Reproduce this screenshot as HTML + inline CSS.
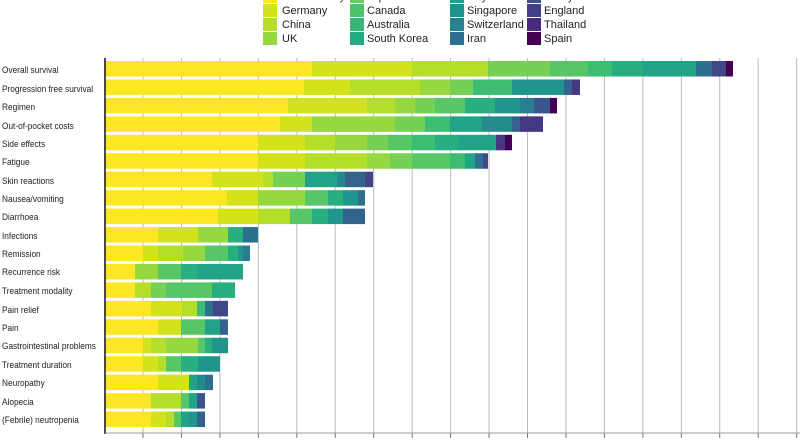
<!DOCTYPE html>
<html><head><meta charset="utf-8"><style>
body{margin:0;width:800px;height:440px;overflow:hidden;background:#fff;font-family:"Liberation Sans",sans-serif;position:relative}
.lab{position:absolute;left:2px;font-size:9px;color:#222;line-height:10px;transform:scaleX(0.92);transform-origin:left}
.lg{position:absolute;font-size:11px;color:#222;line-height:12px}
.sw{position:absolute;width:14px;height:13px}
svg{position:absolute;left:0;top:0}
</style></head><body>
<svg id="s" width="800" height="440"></svg>
<div class="lab" style="top:65px">Overall survival</div>
<div class="lab" style="top:84px">Progression free survival</div>
<div class="lab" style="top:102px">Regimen</div>
<div class="lab" style="top:121px">Out-of-pocket costs</div>
<div class="lab" style="top:139px">Side effects</div>
<div class="lab" style="top:157px">Fatigue</div>
<div class="lab" style="top:176px">Skin reactions</div>
<div class="lab" style="top:194px">Nausea/vomiting</div>
<div class="lab" style="top:212px">Diarrhoea</div>
<div class="lab" style="top:231px">Infections</div>
<div class="lab" style="top:249px">Remission</div>
<div class="lab" style="top:267px">Recurrence risk</div>
<div class="lab" style="top:286px">Treatment modality</div>
<div class="lab" style="top:305px">Pain relief</div>
<div class="lab" style="top:323px">Pain</div>
<div class="lab" style="top:341px">Gastrointestinal problems</div>
<div class="lab" style="top:360px">Treatment duration</div>
<div class="lab" style="top:378px">Neuropathy</div>
<div class="lab" style="top:397px">Alopecia</div>
<div class="lab" style="top:415px">(Febrile) neutropenia</div>

<div class="sw" style="left:263px;top:-10px;background:#fde725"></div><div class="lg" style="left:282px;top:-9px">Multi-country</div>
<div class="sw" style="left:263px;top:4px;background:#d2e21b"></div><div class="lg" style="left:282px;top:5px">Germany</div>
<div class="sw" style="left:263px;top:18px;background:#b5de2b"></div><div class="lg" style="left:282px;top:19px">China</div>
<div class="sw" style="left:263px;top:32px;background:#95d840"></div><div class="lg" style="left:282px;top:33px">UK</div>
<div class="sw" style="left:350px;top:-10px;background:#6ccd5a"></div><div class="lg" style="left:367px;top:-9px">Japan</div>
<div class="sw" style="left:350px;top:4px;background:#4ec36b"></div><div class="lg" style="left:367px;top:5px">Canada</div>
<div class="sw" style="left:350px;top:18px;background:#35b779"></div><div class="lg" style="left:367px;top:19px">Australia</div>
<div class="sw" style="left:350px;top:32px;background:#25ab82"></div><div class="lg" style="left:367px;top:33px">South Korea</div>
<div class="sw" style="left:450px;top:-10px;background:#1f9e89"></div><div class="lg" style="left:467px;top:-9px">Italy</div>
<div class="sw" style="left:450px;top:4px;background:#21918c"></div><div class="lg" style="left:467px;top:5px">Singapore</div>
<div class="sw" style="left:450px;top:18px;background:#26828e"></div><div class="lg" style="left:467px;top:19px">Switzerland</div>
<div class="sw" style="left:450px;top:32px;background:#2e6f8e"></div><div class="lg" style="left:467px;top:33px">Iran</div>
<div class="sw" style="left:527px;top:-10px;background:#3b528b"></div><div class="lg" style="left:544px;top:-9px">Malaysia</div>
<div class="sw" style="left:527px;top:4px;background:#433e85"></div><div class="lg" style="left:544px;top:5px">England</div>
<div class="sw" style="left:527px;top:18px;background:#472d7b"></div><div class="lg" style="left:544px;top:19px">Thailand</div>
<div class="sw" style="left:527px;top:32px;background:#440154"></div><div class="lg" style="left:544px;top:33px">Spain</div>
<script>
var V=['#fde725','#d2e21b','#b5de2b','#95d840','#75d054','#56c667','#3dbc74','#29af7f','#20a386','#1f968b','#238a8d','#287d8e','#2d708e','#33638d','#39568c','#404688','#453781','#482575','#440154'];
var R=[
[[312,412,488,550,588,612,642,696,712,726,733],[0,1,2,4,5,6,7,8,12,15,18]],
[[304,350,420,450,473,512,564,572,580],[0,1,2,3,4,6,9,13,16]],
[[288,367,395,415,435,465,495,520,534,550,557],[0,1,2,3,4,5,7,9,11,14,18]],
[[280,312,395,425,450,482,512,520,543],[0,1,3,4,6,8,10,13,16]],
[[258,305,335,367,388,412,435,458,496,505,512],[0,1,2,3,4,5,6,7,8,16,18]],
[[258,305,367,390,412,450,465,475,483,488],[0,1,2,3,4,5,6,8,12,15]],
[[212,263,273,305,337,345,365,373],[0,1,2,4,8,10,13,15]],
[[227,258,305,328,343,358,365],[0,1,3,5,7,9,12]],
[[218,258,290,312,328,343,365],[0,1,2,5,7,9,13]],
[[158,198,228,243,258],[0,1,3,7,12]],
[[143,158,183,205,228,238,243,250],[0,1,2,3,5,7,9,11]],
[[135,158,181,198,243],[0,3,5,7,8]],
[[135,151,166,212,235],[0,2,4,5,7]],
[[151,182,197,205,213,228],[0,1,2,6,12,15]],
[[158,181,205,220,228],[0,1,5,8,13]],
[[143,151,166,198,205,212,228],[0,1,2,3,5,7,9]],
[[143,158,166,181,198,220],[0,1,2,5,7,9]],
[[158,189,197,205,213],[0,1,8,10,12]],
[[151,181,189,197,205],[0,2,5,8,14]],
[[151,166,174,181,189,197,205],[0,1,2,5,8,9,13]]
];
var h='';
for(var x=143;x<800;x+=38.45)h+='<line x1="'+x+'" y1="58" x2="'+x+'" y2="434" stroke="#bbb" stroke-width="1"/><line x1="'+x+'" y1="433" x2="'+x+'" y2="438" stroke="#777" stroke-width="1"/>';
R.forEach(function(r,i){var y=61+i*18.45,s=105;r[0].forEach(function(e,j){h+='<rect x="'+s+'" y="'+y+'" width="'+(e-s)+'" height="15.5" fill="'+V[r[1][j]]+'"/>';s=e;});});
h+='<line x1="105" y1="58" x2="105" y2="434" stroke="#111" stroke-width="1.5"/>';
h+='<line x1="105" y1="433" x2="800" y2="433" stroke="#999" stroke-width="1"/>';
document.getElementById('s').innerHTML=h;
</script>
</body></html>
